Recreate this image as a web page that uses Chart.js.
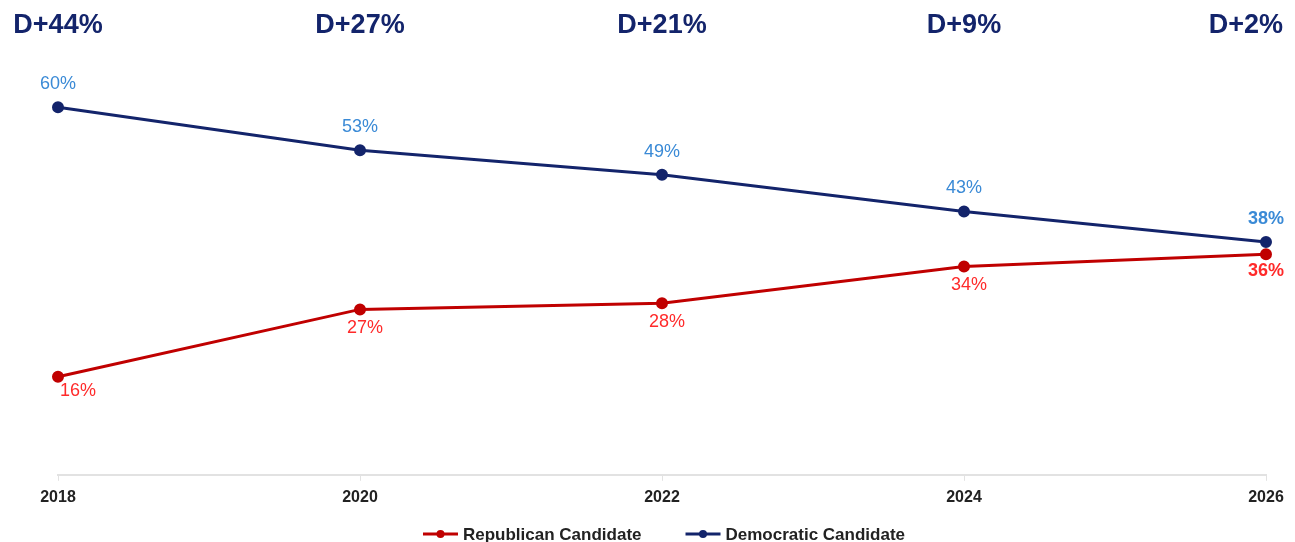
<!DOCTYPE html>
<html>
<head>
<meta charset="utf-8">
<script src="https://cdn.jsdelivr.net/npm/chart.js@4.4.1/dist/chart.umd.min.js"></script>
<style>
  html, body { margin: 0; padding: 0; background: #fff; }
  #wrap { width: 1295px; height: 542px; position: relative; }
</style>
</head>
<body>
<div id="wrap"><canvas id="marginChart"></canvas></div>
<script>
// Dados do gráfico
const years = ["2018", "2020", "2022", "2024", "2026"]
const republican = [16, 27, 28, 34, 36]
const democratic = [60, 53, 49, 43, 38]
const margins = ["D+44%", "D+27%", "D+21%", "D+9%", "D+2%"]

const RED = "#c00000"
const NAVY = "#13246b"
const FONT = "'Liberation Sans', Arial, sans-serif"

// rótulos de valor, margens no topo e legenda
const labelsPlugin = {
  id: "labelsPlugin",
  afterDatasetsDraw(chart) {
    const g = chart.ctx
    const x = chart.scales.x
    g.save()
    g.textAlign = "center"
    g.textBaseline = "middle"

    chart.data.datasets.forEach((ds, di) => {
      const meta = chart.getDatasetMeta(di)
      meta.data.forEach((pt, i) => {
        const last = i === ds.data.length - 1
        g.font = (last ? "bold " : "") + "18px " + FONT
        if (di === 1) {
          g.fillStyle = "#3a8ad6"
          g.fillText(ds.data[i] + "%", pt.x, pt.y - 23)
        } else {
          g.fillStyle = "#ff2a2a"
          let dx = 5, dy = 19
          if (i === 0) { dx = 20; dy = 14 }
          if (last) { dx = 0; dy = 17 }
          g.fillText(ds.data[i] + "%", pt.x + dx, pt.y + dy)
        }
      })
    })

    g.font = "bold 27px " + FONT
    g.fillStyle = NAVY
    margins.forEach((m, i) => {
      let cx = x.getPixelForValue(i)
      const w = g.measureText(m).width
      cx = Math.max(12 + w / 2, Math.min(cx, chart.width - 12 - w / 2))
      g.fillText(m, cx, 26)
    })

    // legenda
    g.font = "bold 17px " + FONT
    g.textAlign = "left"
    const iconW = 35, gap = 5, itemGap = 44
    const items = chart.data.datasets.map((ds) => ({
      text: ds.label,
      color: ds.borderColor,
      w: iconW + gap + g.measureText(ds.label).width,
    }))
    const total = items.reduce((s, it) => s + it.w, 0) + itemGap * (items.length - 1)
    let lx = 664 - total / 2
    const ly = 534
    items.forEach((it) => {
      g.strokeStyle = it.color
      g.fillStyle = it.color
      g.lineWidth = 3
      g.beginPath()
      g.moveTo(lx, ly)
      g.lineTo(lx + iconW, ly)
      g.stroke()
      g.beginPath()
      g.arc(lx + iconW / 2, ly, 4, 0, Math.PI * 2)
      g.fill()
      g.fillStyle = "#222"
      g.fillText(it.text, lx + iconW + gap, ly + 1)
      lx += it.w + itemGap
    })
    g.restore()
  },
}

const ctx = document.getElementById("marginChart")
new Chart(ctx, {
  type: "line",
  data: {
    labels: years,
    datasets: [
      {
        label: "Republican Candidate",
        data: republican,
        borderColor: RED,
        backgroundColor: RED,
        borderWidth: 3,
        pointRadius: 4.5,
        pointHoverRadius: 4.5,
        tension: 0,
      },
      {
        label: "Democratic Candidate",
        data: democratic,
        borderColor: NAVY,
        backgroundColor: NAVY,
        borderWidth: 3,
        pointRadius: 4.5,
        pointHoverRadius: 4.5,
        tension: 0,
      },
    ],
  },
  options: {
    responsive: true,
    maintainAspectRatio: false,
    animation: false,
    layout: { padding: { top: 46, left: 58, right: 29, bottom: 28 } },
    plugins: {
      tooltip: { enabled: false },
      legend: { display: false },
    },
    scales: {
      x: {
        offset: false,
        grid: { display: true, drawOnChartArea: false, color: "#e2e2e2", tickLength: 6 },
        border: { color: "#e2e2e2", width: 2 },
        ticks: {
          color: "#222",
          font: { family: FONT, size: 16, weight: "bold" },
          padding: 7,
          maxRotation: 0,
        },
      },
      y: {
        display: false,
        min: 0,
        max: 70,
      },
    },
  },
  plugins: [labelsPlugin],
})
</script>
</body>
</html>
